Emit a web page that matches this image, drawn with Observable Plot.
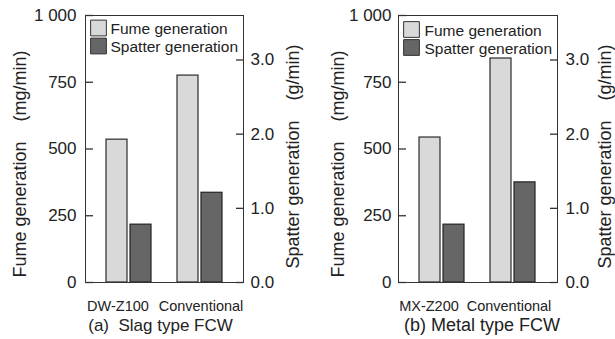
<!DOCTYPE html>
<html>
<head>
<meta charset="utf-8">
<script src="https://cdn.jsdelivr.net/npm/d3@7"></script>
<script src="https://cdn.jsdelivr.net/npm/@observablehq/plot@0.6"></script>
<style>
  html, body { margin: 0; padding: 0; background: #fff; }
  #chart { display: flex; width: 615px; height: 339px; }
</style>
</head>
<body>
<div id="chart"></div>
<script>
// ---- data ----
const panelACategories = ["DW-Z100", "Conventional"];
const panelAFume = [535, 775];          // mg/min
const panelASpatter = [0.78, 1.21];     // g/min
const panelBCategories = ["MX-Z200", "Conventional"];
const panelBFume = [543, 839];          // mg/min
const panelBSpatter = [0.78, 1.35];     // g/min
const fumeTicks = [0, 250, 500, 750, 1000];
const spatterTicks = [0, 1, 2, 3];
const fumeDomain = [0, 1000];
const spatterDomain = [0, 3.6];
const seriesNames = ["Fume generation", "Spatter generation"];
const captions = ["(a)  Slag type FCW", "(b) Metal type FCW"];
const fumeTitle = "Fume generation";
const fumeUnit = "(mg/min)";
const spatterTitle = "Spatter generation";
const spatterUnit = "(g/min)";

// ---- drawing ----
const k = fumeDomain[1] / spatterDomain[1];
const fmtFume = d3.formatLocale({thousands: " ", grouping: [3], currency: ["", ""], decimal: "."}).format(",");
const gap = "\u00a0\u00a0\u00a0\u00a0";
const fills = ["#d9d9d9", "#666666"];

function panel(cats, fume, spatter, caption, o) {
  const rows = cats.map((c, i) => ({category: c, fume: fume[i], spatter: spatter[i]}));
  const frameW = o.width - o.marginLeft - o.marginRight;
  const legendMarks = seriesNames.flatMap((name, i) => [
    Plot.dot([name], {frameAnchor: "top-left", dx: 13, dy: o.legendY + i * 18, symbol: "square", r: 8.9,
      fill: fills[i], stroke: "#333", strokeWidth: 1}),
    Plot.text([name], {frameAnchor: "top-left", dx: o.legendTextX, dy: o.legendY + 6 + i * 18, textAnchor: "start",
      lineAnchor: "bottom", fontSize: 15.5})
  ]);
  const catLabels = cats.map((c, i) =>
    Plot.text([c], {x: d => d, frameAnchor: "bottom", lineAnchor: "bottom", dy: 28, dx: o.labelDx[i], fontSize: 14.5}));
  return Plot.plot({
    width: o.width,
    height: 339,
    marginTop: 15,
    marginBottom: 57,
    marginLeft: o.marginLeft,
    marginRight: o.marginRight,
    style: {fontFamily: "'Liberation Sans', Arial, sans-serif", fontSize: "16px", color: "#222", background: "#fff", overflow: "visible"},
    x: {domain: cats, paddingInner: 0.36, paddingOuter: 0.29, axis: null},
    y: {domain: fumeDomain, axis: null},
    marks: [
      Plot.barY(rows, {x: "category", y: "fume", fill: fills[0], stroke: "#2b2b2b", strokeWidth: 1.2, insetRight: 24}),
      Plot.barY(rows, {x: "category", y: d => d.spatter * k, fill: fills[1], stroke: "#222", strokeWidth: 1.2, insetLeft: 24}),
      Plot.frame({stroke: "#333"}),
      Plot.ruleY(fumeTicks, {y: d => d, insetRight: frameW - 8, stroke: "#333", strokeWidth: 1.3}),
      Plot.ruleY(spatterTicks, {y: d => d * k, insetLeft: frameW - 7, stroke: "#333", strokeWidth: 1.3}),
      Plot.axisY(fumeTicks, {anchor: "left", tickSize: 0, tickPadding: o.leftPad, tickFormat: fmtFume, fontSize: 17, label: null}),
      Plot.axisY(spatterTicks.map(v => v * k), {anchor: "right", tickSize: 0, tickPadding: o.rightPad,
        tickFormat: d => (d / k).toFixed(1), fontSize: 17, label: null}),
      ...catLabels,
      Plot.text([fumeTitle + gap + fumeUnit], {frameAnchor: "bottom-left", rotate: -90, textAnchor: "start",
        lineAnchor: "bottom", dx: o.leftTitleDx, dy: -5, fontSize: 18}),
      Plot.text([spatterTitle + gap + spatterUnit], {frameAnchor: "bottom-right", rotate: -90, textAnchor: "start",
        lineAnchor: "bottom", dx: o.rightTitleDx, dy: -14, fontSize: 18}),
      Plot.text([caption], {frameAnchor: "bottom", lineAnchor: "bottom", dy: 48, dx: o.captionDx, fontSize: o.captionSize}),
      ...legendMarks
    ]
  });
}

const chart = document.getElementById("chart");
chart.append(panel(panelACategories, panelAFume, panelASpatter, captions[0], {
  width: 305, marginLeft: 85, marginRight: 62, leftPad: 9, rightPad: 7,
  leftTitleDx: -60, rightTitleDx: 55, captionDx: -4, captionSize: 17, legendY: 12.5, legendTextX: 25,
  labelDx: [-11, 1]
}));
chart.append(panel(panelBCategories, panelBFume, panelBSpatter, captions[1], {
  width: 310, marginLeft: 93, marginRight: 58, leftPad: 7, rightPad: 8,
  leftTitleDx: -55, rightTitleDx: 53, captionDx: 4, captionSize: 18, legendY: 14, legendTextX: 26,
  labelDx: [-13, -4]
}));
</script>
</body>
</html>
